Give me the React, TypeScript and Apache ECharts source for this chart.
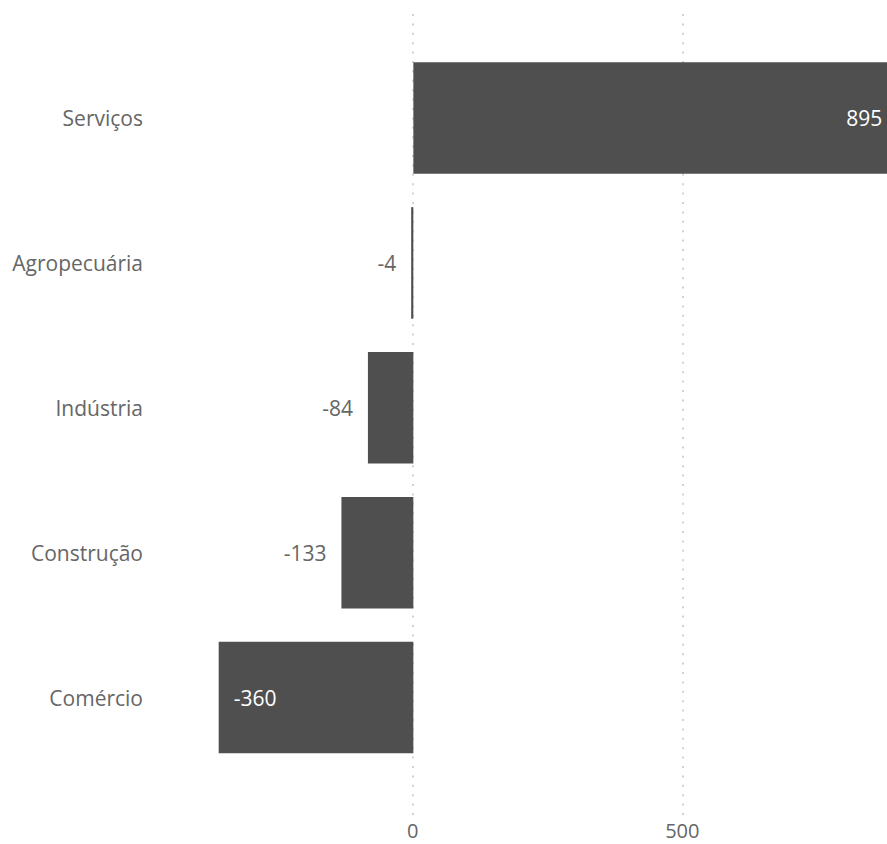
import React, { useEffect, useRef } from "react";
import * as echarts from "echarts";

const categories = ["Serviços", "Agropecuária", "Indústria", "Construção", "Comércio"];
const values = [895, -4, -84, -133, -360];
const xTicks = [0, 500];

const FONT = "'Segoe UI', 'Open Sans', 'Noto Sans', sans-serif";
const GRAY = "#666666";
const BAR = "#4f4f4f";

export default function App() {
  const ref = useRef<HTMLDivElement>(null);

  useEffect(() => {
    if (!ref.current) return;
    const chart = echarts.init(ref.current, undefined, { renderer: "svg" });

    const data = values.map((v) => {
      const inside = Math.abs(v) > 300;
      return {
        value: v,
        label: inside
          ? {
              position: v >= 0 ? "insideRight" : "insideLeft",
              color: "#ffffff",
              distance: 15,
            }
          : {
              position: v >= 0 ? "right" : "left",
              color: GRAY,
              distance: 15,
            },
      };
    });

    chart.setOption({
      animation: false,
      textStyle: { fontFamily: FONT },
      grid: [
        { left: 143, right: 1, top: 14, bottom: 27 },
        { left: 143, right: 1, top: 45.6, bottom: 74 },
      ],
      xAxis: [
        {
          type: "value",
          gridIndex: 0,
          min: -500,
          max: 1000,
          interval: 500,
          axisLine: { show: false },
          axisTick: { show: false },
          splitLine: {
            show: true,
            showMinLine: false,
            lineStyle: { color: "#c4c4c4", type: [2, 7.4], width: 1.5 },
          },
          axisLabel: {
            color: GRAY,
            fontSize: 20,
            fontFamily: FONT,
            margin: 3,
            formatter: (v: number) => (xTicks.includes(v) ? String(v) : ""),
          },
        },
        {
          type: "value",
          gridIndex: 1,
          min: -500,
          max: 1000,
          interval: 500,
          show: false,
        },
      ],
      yAxis: [
        {
          type: "category",
          gridIndex: 0,
          data: categories,
          show: false,
        },
        {
          type: "category",
          gridIndex: 1,
          data: categories,
          inverse: true,
          axisLine: { show: false },
          axisTick: { show: false },
          splitLine: { show: false },
          axisLabel: {
            color: GRAY,
            fontSize: 21,
            fontFamily: FONT,
            margin: 0,
          },
        },
      ],
      series: [
        {
          type: "bar",
          xAxisIndex: 1,
          yAxisIndex: 1,
          data,
          barCategoryGap: "23%",
          clip: false,
          itemStyle: { color: BAR },
          label: {
            show: true,
            fontSize: 21,
            fontFamily: FONT,
          },
        },
      ],
    });

    return () => chart.dispose();
  }, []);

  return (
    <div
      style={{
        position: "absolute",
        left: 0,
        top: 0,
        width: 887,
        height: 844,
        overflow: "hidden",
        background: "#ffffff",
      }}
    >
      <div ref={ref} style={{ width: 955, height: 844 }} />
    </div>
  );
}
